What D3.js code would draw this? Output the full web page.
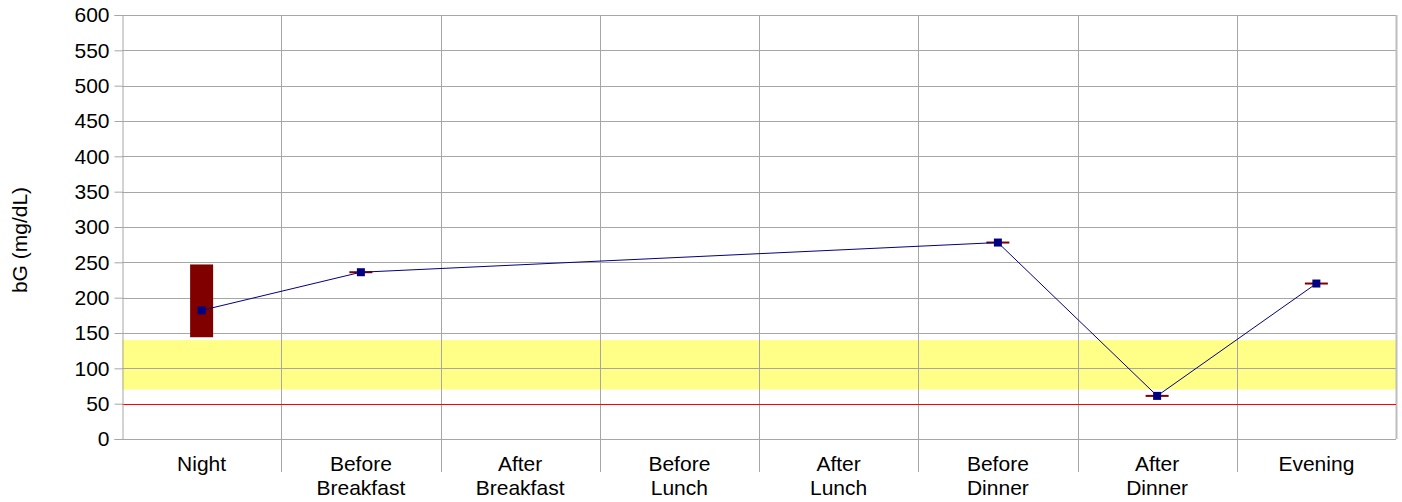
<!DOCTYPE html>
<html>
<head>
<meta charset="utf-8">
<script src="https://cdn.jsdelivr.net/npm/d3@7"></script>
<style>
  html, body { margin: 0; padding: 0; background: #ffffff; }
  svg { display: block; font-family: "Liberation Sans", Arial, sans-serif; }
</style>
</head>
<body>
<svg id="chart" width="1402" height="502"></svg>
<script>
// Time-of-day periods along the x axis
const categories = ["Night", "Before\nBreakfast", "After\nBreakfast", "Before\nLunch",
                    "After\nLunch", "Before\nDinner", "After\nDinner", "Evening"];
// Average blood glucose per period (mg/dL); null = no readings
const meanValues = [182, 236, null, null, null, 278, 61, 220];
// Lowest and highest reading per period
const minValues  = [144, 236, null, null, null, 278, 61, 220];
const maxValues  = [247, 236, null, null, null, 278, 61, 220];
// Target range and hypoglycaemia threshold
const targetRange = [70, 140];
const hypoLimit = 50;
// Y axis ticks
const yTicks = [0, 50, 100, 150, 200, 250, 300, 350, 400, 450, 500, 550, 600];

const svg = d3.select("#chart");
const plotL = 122, plotR = 1396, plotT = 15, plotB = 439;
const gridColor = "#a6a6a6";

const x = d3.scaleBand().domain(d3.range(categories.length)).range([plotL, plotR]).padding(0);
const y = d3.scaleLinear().domain([0, 600]).range([plotB, plotT]);

// Target band
svg.append("rect")
  .attr("x", plotL).attr("width", plotR - plotL)
  .attr("y", y(targetRange[1])).attr("height", y(targetRange[0]) - y(targetRange[1]))
  .attr("fill", "#ffff88");

// Horizontal grid
svg.append("g").selectAll("line").data(yTicks.filter(d => d > 0)).join("line")
  .attr("x1", plotL).attr("x2", plotR)
  .attr("y1", d => Math.round(y(d)) + 0.5).attr("y2", d => Math.round(y(d)) + 0.5)
  .attr("stroke", gridColor).attr("stroke-width", 1);

// Category separators (extend down between the labels)
svg.append("g").selectAll("line").data(d3.range(1, categories.length)).join("line")
  .attr("x1", d => Math.round(x(d)) + 0.5).attr("x2", d => Math.round(x(d)) + 0.5)
  .attr("y1", plotT).attr("y2", plotB + 33)
  .attr("stroke", gridColor).attr("stroke-width", 1);

// Right border
svg.append("line")
  .attr("x1", plotR + 0.5).attr("x2", plotR + 0.5).attr("y1", plotT).attr("y2", plotB)
  .attr("stroke", "#bdbdbd").attr("stroke-width", 2);

// Hypo threshold line
svg.append("line")
  .attr("x1", plotL).attr("x2", plotR)
  .attr("y1", Math.round(y(hypoLimit)) + 0.5).attr("y2", Math.round(y(hypoLimit)) + 0.5)
  .attr("stroke", "#ff0000").attr("stroke-width", 1);

// Y axis
const yAxis = svg.append("g").attr("transform", `translate(${plotL + 0.5},0)`)
  .call(d3.axisLeft(y).tickValues(yTicks).tickSize(8).tickPadding(5).tickFormat(d3.format("d")));
yAxis.select(".domain").attr("stroke", gridColor);
yAxis.selectAll(".tick line").attr("stroke", gridColor);
yAxis.selectAll(".tick text").attr("fill", "#000").style("font-size", "21px")
  .style("font-family", "'Liberation Sans', Arial, sans-serif");

// X axis baseline
svg.append("line")
  .attr("x1", plotL).attr("x2", plotR)
  .attr("y1", plotB + 0.5).attr("y2", plotB + 0.5)
  .attr("stroke", gridColor).attr("stroke-width", 1);

// Category labels
const labels = svg.append("g").selectAll("text").data(categories).join("text")
  .attr("x", (d, i) => x(i) + x.bandwidth() / 2)
  .attr("y", 471)
  .attr("text-anchor", "middle")
  .style("font-size", "21px")
  .attr("fill", "#000");
labels.each(function(d) {
  const parts = d.split("\n");
  const t = d3.select(this);
  parts.forEach((p, k) => {
    t.append("tspan").attr("x", t.attr("x")).attr("dy", k === 0 ? 0 : 24).text(p);
  });
});

// Y axis title
svg.append("text")
  .attr("transform", "translate(27,240) rotate(-90)")
  .attr("text-anchor", "middle")
  .style("font-size", "21px")
  .attr("fill", "#000")
  .text("bG (mg/dL)");

// Min–max range per period
const rangeW = 23;
const idx = d3.range(categories.length).filter(i => minValues[i] != null);
svg.append("g").selectAll("rect").data(idx).join("rect")
  .attr("x", i => x(i) + x.bandwidth() / 2 - rangeW / 2)
  .attr("width", rangeW)
  .attr("y", i => y(maxValues[i]) - (maxValues[i] === minValues[i] ? 1 : 0))
  .attr("height", i => Math.max(2, y(minValues[i]) - y(maxValues[i])))
  .attr("fill", "#800000");

// Mean line connecting periods with readings
const pts = d3.range(categories.length).filter(i => meanValues[i] != null);
svg.append("path")
  .datum(pts)
  .attr("fill", "none")
  .attr("stroke", "#000080")
  .attr("stroke-width", 1)
  .attr("d", d3.line().x(i => x(i) + x.bandwidth() / 2).y(i => y(meanValues[i])));

// Mean markers
const m = 8;
svg.append("g").selectAll("rect").data(pts).join("rect")
  .attr("x", i => x(i) + x.bandwidth() / 2 - m / 2)
  .attr("y", i => y(meanValues[i]) - m / 2)
  .attr("width", m).attr("height", m)
  .attr("fill", "#000080");
</script>
</body>
</html>
